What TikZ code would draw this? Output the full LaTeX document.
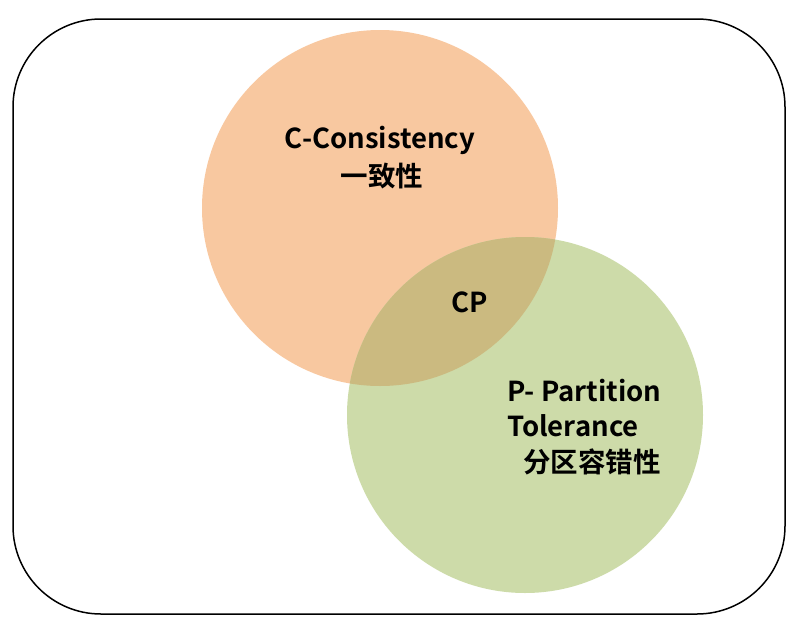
\documentclass[tikz,border=0pt]{standalone}
\usepackage{fontspec}
\setmainfont{Noto Sans CJK SC}[BoldFont={Noto Sans CJK SC Bold}]
\definecolor{orangec}{HTML}{F8C8A0}
\definecolor{greenc}{HTML}{CDDBA9}
\definecolor{overlapc}{HTML}{CBBA80}
\tikzset{lbl/.style={font=\bfseries\fontsize{27.5}{32}\selectfont, text=black, inner sep=0pt}}
\begin{document}
\begin{tikzpicture}[x=1pt,y=-1pt]
\useasboundingbox (0,0) rectangle (798,624);
\draw[line width=1.5pt, rounded corners=88pt] (13,19) rectangle (785,614);
\coordinate (co) at (380,208);
\coordinate (cg) at (525,415);
\fill[orangec] (co) circle (178);
\fill[greenc] (cg) circle (178);
\begin{scope}
\clip (co) circle (178);
\fill[overlapc] (cg) circle (178);
\end{scope}
\node[lbl] (c1) at (380,140) {C-Consistency};
\node[lbl] (c2) at (382,176) {一致性};
\node[lbl] (cp) at (470,302) {CP};
\node[lbl, anchor=west] (p1) at (507,391) {P- Partition};
\node[lbl, anchor=west] (p2) at (507,426) {Tolerance};
\node[lbl, anchor=west] (p3) at (523,462) {分区容错性};
\end{tikzpicture}
\end{document}
